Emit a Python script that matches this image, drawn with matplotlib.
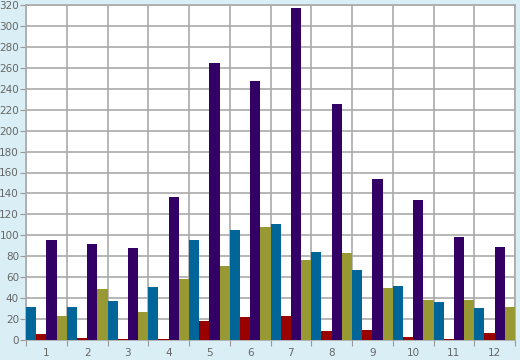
import numpy as np
import matplotlib
matplotlib.use("Agg")
import matplotlib.pyplot as plt

months = ["1", "2", "3", "4", "5", "6", "7", "8", "9", "10", "11", "12"]
blue_vals = [32, 32, 37, 51, 96, 105, 111, 84, 67, 52, 36, 31]
red_vals = [6, 2, 1, 1, 18, 22, 23, 9, 10, 3, 1, 7]
purple_vals = [96, 92, 88, 137, 265, 247, 317, 225, 154, 134, 98, 89]
olive_vals = [23, 49, 27, 58, 71, 108, 76, 83, 50, 38, 38, 32]
y_ticks = list(range(0, 321, 20))

series = [
    (blue_vals, "#006699"),
    (red_vals, "#990000"),
    (purple_vals, "#330066"),
    (olive_vals, "#999933"),
]

fig = plt.figure(figsize=(5.2, 3.6), dpi=100)
fig.patch.set_facecolor("#d9eef5")
ax = fig.add_axes([26 / 520, 20 / 360, 489 / 520, 335 / 360])
ax.set_facecolor("white")

x = np.arange(len(months))
w = 0.25
for k, (vals, col) in enumerate(series):
    ax.bar(x + w * k, vals, width=w, align="edge", color=col, linewidth=0, zorder=3)

ax.set_xlim(0, len(months))
ax.set_ylim(0, 320)

# boundaries get tick marks + grid, labels sit in the middle of each group
ax.set_xticks(np.arange(len(months) + 1))
ax.set_xticklabels([])
ax.set_xticks(x + 0.5, minor=True)
ax.set_xticklabels(months, minor=True)
ax.tick_params(axis="x", which="major", length=4, color="#999999", direction="out")
ax.tick_params(axis="x", which="minor", length=0, pad=6)
ax.set_yticks(y_ticks)
ax.tick_params(axis="y", length=4, color="#999999", pad=1)
ax.tick_params(axis="both", which="both", labelsize=7.5, labelcolor="#666666")

ax.grid(True, which="major", color="#aaaaaa", linewidth=1.2, zorder=0)
ax.set_axisbelow(True)
for s in ax.spines.values():
    s.set_color("#aaaaaa")
    s.set_linewidth(1.2)

plt.savefig("out.png", dpi=100, facecolor=fig.get_facecolor())
